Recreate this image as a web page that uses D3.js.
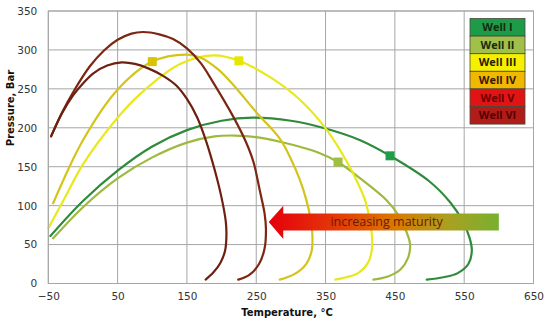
<!DOCTYPE html>
<html>
<head>
<meta charset="utf-8">
<script src="https://cdn.jsdelivr.net/npm/d3@7"></script>
<style>
  html, body { margin: 0; padding: 0; background: #fff; }
  svg { display: block; }
  .tick text { font-family: "DejaVu Sans", sans-serif; font-size: 10.5px; fill: #333; }
</style>
</head>
<body>
<div id="chart"></div>
<script>
// --- data (temperature °C, pressure bar) ---
const wellNames = ['Well I', 'Well II', 'Well III', 'Well IV', 'Well V', 'Well VI'];

const wellI = [[-47,61],[0,106],[50,145],[100,176],[150,197],[200,209],[245,213],[300,209],[350,199],
  [400,184],[443,164],[500,131],[530,104],[548,80],[558,58],[561,42],[556,25],[540,13],[520,8],[496,5]];
const wellII = [[-43,58],[0,98],[50,135],[100,162],[150,181],[190,189],[220,190],[250,188],[284,182],
  [340,168],[368,156],[400,135],[438,107],[455,88],[466,68],[472,50],[469,33],[458,18],[440,9],[419,5]];
const wellIII = [[-50,71],[-25,112],[0,153],[49,212],[82,243],[140,282],[190,293],[225,286],[270,265],
  [313,236],[352,197],[381,156],[396,130],[407,107],[413,85],[417,60],[417,45],[412,28],[398,14],
  [380,8],[364,5]];
const wellIV = [[-43,103],[0,184],[49,248],[100,285],[150,294],[170,290],[195,275],[217,255],[250,220],
  [284,186],[300,160],[313,133],[322,108],[328,85],[331,62],[330,42],[322,25],[305,12],[284,5]];
const wellV = [[-46,189],[-30,220],[-14,246],[10,279],[30,299],[50,313],[70,321],[87,323],[110,320],
  [130,314],[150,302],[170,283],[188,258],[217,214],[235,182],[246,156],[255,120],[262,90],[264,70],
  [262,45],[254,25],[240,11],[224,5]];
const wellVI = [[-46,189],[-30,219],[-14,242],[0,257],[15,270],[35,280],[56,284],[75,282],[95,276],
  [115,267],[135,254],[150,237],[165,213],[178,182],[190,146],[200,110],[206,80],[207,62],[205,42],
  [198,26],[188,14],[177,5]];
const wellSeries = [wellI, wellII, wellIII, wellIV, wellV, wellVI];

// square markers on four of the wells
const markerWell = [0, 1, 2, 3];
const markerPts = [[443,164],[368,156],[225,286],[100,285]];

const lineColors = ['#2f8b3b', '#9dba3e', '#e8e81c', '#d4c41a', '#7d2612', '#6e2010'];
const markerColors = ['#1f9e48', '#9fbf40', '#e6e600', '#d9c400'];
const legendFill = ['#1e9b48', '#a0c04a', '#f5f000', '#f0b800', '#e01414', '#b01c18'];
const legendText = ['#1a2a10', '#1a2a10', '#2a2000', '#3a1a00', '#6e0000', '#5a0000'];

const xTicks = [-50, 50, 150, 250, 350, 450, 550, 650];
const yTicks = [0, 50, 100, 150, 200, 250, 300, 350];

// arrow annotation: tail T, tip T, head base T, body/head pressures
const arrowTailT = 600, arrowTipT = 268, arrowHeadT = 289;
const arrowBody = [68, 90], arrowHead = [57, 100], arrowMidP = 79;

// --- layout ---
const W = 550, H = 324;
const margin = { top: 11, right: 16.5, bottom: 40.5, left: 48.3 };
const iw = W - margin.left - margin.right, ih = H - margin.top - margin.bottom;

const svg = d3.select('#chart').append('svg').attr('width', W).attr('height', H);
const g = svg.append('g').attr('transform', `translate(${margin.left},${margin.top})`);

const x = d3.scaleLinear().domain([-50, 650]).range([0, iw]);
const y = d3.scaleLinear().domain([0, 350]).range([ih, 0]);

// grid
g.append('g').selectAll('line').data(xTicks).join('line')
  .attr('x1', d => x(d)).attr('x2', d => x(d)).attr('y1', 0).attr('y2', ih)
  .attr('stroke', '#a6a6a6').attr('stroke-width', 1);
g.append('g').selectAll('line').data(yTicks).join('line')
  .attr('x1', 0).attr('x2', iw).attr('y1', d => y(d)).attr('y2', d => y(d))
  .attr('stroke', '#a6a6a6').attr('stroke-width', 1);

// axes (labels only)
const fmt = d => d < 0 ? '\u2212' + Math.abs(d) : String(d);
const xAxis = g.append('g').attr('transform', `translate(0,${ih})`)
  .call(d3.axisBottom(x).tickValues(xTicks).tickFormat(fmt).tickSize(0).tickPadding(9));
const yAxis = g.append('g')
  .call(d3.axisLeft(y).tickValues(yTicks).tickFormat(fmt).tickSize(0).tickPadding(11));
[xAxis, yAxis].forEach(a => a.select('.domain').remove());

// axis titles
svg.append('text').attr('x', 287).attr('y', 316)
  .attr('text-anchor', 'middle').attr('font-family', 'DejaVu Sans, sans-serif')
  .attr('font-size', 10).attr('font-weight', 'bold').attr('fill', '#111')
  .text('Temperature, °C');
svg.append('text').attr('transform', 'translate(14,108) rotate(-90)')
  .attr('text-anchor', 'middle').attr('font-family', 'DejaVu Sans, sans-serif')
  .attr('font-size', 10).attr('font-weight', 'bold').attr('fill', '#111')
  .text('Pressure, Bar');

// well curves
const line = d3.line().x(d => x(d[0])).y(d => y(d[1])).curve(d3.curveCatmullRom.alpha(0.5));
g.append('g').selectAll('path').data(wellSeries).join('path')
  .attr('d', line).attr('fill', 'none')
  .attr('stroke', (d, i) => lineColors[i]).attr('stroke-width', 2.2)
  .attr('stroke-linecap', 'round');

// markers
const ms = 9;
g.append('g').selectAll('rect').data(markerPts).join('rect')
  .attr('x', d => x(d[0]) - ms / 2).attr('y', d => y(d[1]) - ms / 2)
  .attr('width', ms).attr('height', ms)
  .attr('fill', (d, i) => markerColors[markerWell[i]]);

// arrow with gradient, drawn over the curves
const defs = svg.append('defs');
const grad = defs.append('linearGradient').attr('id', 'matGrad')
  .attr('gradientUnits', 'userSpaceOnUse')
  .attr('x1', x(arrowTipT)).attr('x2', x(arrowTailT)).attr('y1', 0).attr('y2', 0);
[['0%', '#e4000c'], ['30%', '#e43a08'], ['55%', '#d87a00'], ['78%', '#aaa020'], ['100%', '#78b030']]
  .forEach(([o, c]) => grad.append('stop').attr('offset', o).attr('stop-color', c));

const arrowPts = [
  [arrowTailT, arrowBody[1]], [arrowHeadT, arrowBody[1]], [arrowHeadT, arrowHead[1]],
  [arrowTipT, arrowMidP], [arrowHeadT, arrowHead[0]], [arrowHeadT, arrowBody[0]],
  [arrowTailT, arrowBody[0]]
];
g.append('path')
  .attr('d', d3.line().x(d => x(d[0])).y(d => y(d[1]))(arrowPts) + 'Z')
  .attr('fill', 'url(#matGrad)');
g.append('text').attr('x', x(438)).attr('y', y(arrowMidP)).attr('dy', '0.35em')
  .attr('text-anchor', 'middle').attr('font-family', 'Open Sans, sans-serif')
  .attr('font-size', 12.5).attr('fill', '#6a1a00')
  .text('increasing maturity');

// plot frame
g.append('rect').attr('width', iw).attr('height', ih)
  .attr('fill', 'none').attr('stroke', '#a6a6a6');

// legend
const lgX = 470, lgY = 18.5, lgW = 55, lgRow = 17.6;
const lg = svg.append('g').attr('transform', `translate(${lgX},${lgY})`);
lg.selectAll('rect').data(wellNames).join('rect')
  .attr('x', 0).attr('y', (d, i) => i * lgRow).attr('width', lgW).attr('height', lgRow)
  .attr('fill', (d, i) => legendFill[i]).attr('stroke', '#4a4a3a').attr('stroke-width', 0.8);
lg.selectAll('text').data(wellNames).join('text')
  .attr('x', lgW / 2).attr('y', (d, i) => i * lgRow + lgRow / 2).attr('dy', '0.36em')
  .attr('text-anchor', 'middle').attr('font-family', 'Open Sans, sans-serif')
  .attr('font-size', 11).attr('font-weight', 'bold')
  .attr('fill', (d, i) => legendText[i])
  .text(d => d);
</script>
</body>
</html>
